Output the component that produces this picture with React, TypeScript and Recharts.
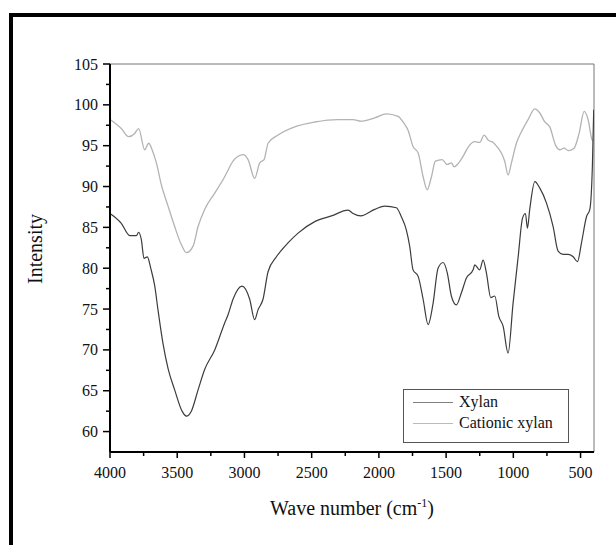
import React from 'react'
import { LineChart, Line, XAxis, YAxis, ReferenceLine } from 'recharts'

// FTIR spectra
const xylanWave = [4000, 3916, 3853, 3804, 3787, 3767, 3747, 3722, 3697, 3667, 3643, 3606, 3568, 3519, 3464, 3432, 3395, 3345, 3296, 3221, 3147, 3122, 3085, 3018, 2961, 2924, 2899, 2862, 2824, 2762, 2676, 2601, 2477, 2353, 2229, 2192, 2135, 2031, 1956, 1870, 1833, 1796, 1771, 1746, 1708, 1671, 1634, 1597, 1560, 1522, 1491, 1461, 1424, 1386, 1349, 1299, 1287, 1250, 1225, 1200, 1168, 1138, 1108, 1076, 1039, 1002, 964, 932, 910, 895, 878, 840, 803, 754, 704, 667, 630, 592, 555, 523, 493, 456, 431, 412, 402]
const xylanValue = [86.7, 85.5, 84.0, 84.0, 84.4, 83.5, 81.2, 81.4, 80.0, 77.8, 74.9, 70.8, 67.7, 65.1, 62.5, 61.9, 62.5, 65.1, 67.6, 70.0, 73.3, 74.3, 76.2, 77.8, 76.2, 73.7, 74.9, 76.2, 79.6, 81.4, 83.1, 84.3, 85.7, 86.4, 87.1, 86.7, 86.4, 87.2, 87.6, 87.4, 86.3, 84.7, 82.7, 79.8, 79.0, 76.2, 73.1, 75.7, 80.0, 80.7, 79.4, 76.6, 75.5, 77.0, 78.8, 79.8, 80.4, 79.8, 81.0, 79.4, 76.4, 76.6, 74.1, 72.9, 69.6, 75.7, 81.4, 86.1, 86.7, 84.9, 87.2, 90.6, 89.8, 88.0, 85.1, 82.1, 81.7, 81.7, 81.4, 80.8, 83.1, 86.3, 87.2, 92.5, 99.4]

const cationicWave = [4000, 3916, 3861, 3816, 3787, 3742, 3712, 3687, 3655, 3618, 3568, 3519, 3470, 3432, 3382, 3345, 3296, 3221, 3147, 3122, 3085, 3010, 2973, 2924, 2886, 2854, 2824, 2750, 2626, 2477, 2304, 2192, 2133, 2031, 1944, 1857, 1820, 1783, 1746, 1708, 1671, 1641, 1609, 1580, 1530, 1491, 1461, 1441, 1411, 1374, 1337, 1287, 1250, 1217, 1188, 1150, 1113, 1089, 1064, 1039, 1014, 977, 940, 890, 840, 803, 766, 729, 687, 654, 622, 592, 548, 511, 473, 444, 414, 400]
const cationicValue = [98.2, 97.1, 96.1, 96.5, 97.1, 94.5, 95.3, 94.5, 92.9, 90.2, 87.6, 85.1, 82.9, 81.9, 82.7, 85.1, 87.2, 89.2, 91.2, 92.0, 93.1, 93.9, 93.3, 91.0, 92.9, 93.3, 95.3, 96.3, 97.3, 97.9, 98.2, 98.2, 98.0, 98.4, 98.9, 98.6, 97.9, 96.9, 94.9, 94.1, 91.2, 89.6, 91.2, 93.1, 93.3, 92.7, 92.9, 92.4, 92.8, 93.7, 94.8, 95.5, 95.4, 96.3, 95.7, 95.4, 94.7, 94.1, 93.1, 91.4, 92.9, 95.3, 96.7, 98.2, 99.5, 99.0, 97.9, 97.3, 95.1, 94.5, 94.7, 94.4, 94.7, 96.5, 99.2, 98.2, 95.7, 95.5]

const xTicks = [4000, 3750, 3500, 3250, 3000, 2750, 2500, 2250, 2000, 1750, 1500, 1250, 1000, 750, 500]
const yTicks = [60, 62.5, 65, 67.5, 70, 72.5, 75, 77.5, 80, 82.5, 85, 87.5, 90, 92.5, 95, 97.5, 100, 102.5, 105]

const xylanData = xylanWave.map((w, i) => ({ w, v: xylanValue[i] }))
const cationicData = cationicWave.map((w, i) => ({ w, v: cationicValue[i] }))

const FONT = '"Liberation Serif", "Times New Roman", serif'

const XTick = ({ x, y, payload }: any) => {
  const major = payload.value % 500 === 0
  return (
    <g>
      <line x1={x} x2={x} y1={y} y2={y + (major ? 6 : 4)} stroke="#000" strokeWidth={1.5} />
      {major && (
        <text x={x} y={y + 26} textAnchor="middle" fontSize={16} fontFamily={FONT} fill="#111">
          {payload.value}
        </text>
      )}
    </g>
  )
}

const YTick = ({ x, y, payload }: any) => {
  const major = payload.value % 5 === 0
  return (
    <g>
      <line x1={x - (major ? 7 : 4)} x2={x} y1={y} y2={y} stroke="#000" strokeWidth={1.5} />
      {major && (
        <text x={x - 12} y={y} dy="0.35em" textAnchor="end" fontSize={16} fontFamily={FONT} fill="#111">
          {payload.value}
        </text>
      )}
    </g>
  )
}

export default function App() {
  return (
    <div style={{ position: 'absolute', left: 0, top: 0, width: 616, height: 545, background: '#fff', fontFamily: FONT, overflow: 'hidden' }}>
      <div style={{ position: 'absolute', left: 9, top: 13, width: 607, height: 532, borderTop: '4px solid #000', borderLeft: '4px solid #000', boxSizing: 'border-box' }} />
      <div style={{ position: 'absolute', left: 0, top: 0 }}>
        <LineChart width={616} height={545} margin={{ top: 64, right: 22, bottom: 33, left: 0 }}>
          <XAxis
            type="number"
            dataKey="w"
            domain={[400, 4000]}
            reversed
            ticks={xTicks}
            interval={0}
            allowDataOverflow
            height={60}
            tickSize={0}
            tickMargin={0}
            tick={<XTick />}
            axisLine={{ stroke: '#000', strokeWidth: 2 }}
            tickLine={false}
          />
          <YAxis
            type="number"
            domain={[57.5, 105]}
            ticks={yTicks}
            interval={0}
            allowDataOverflow
            width={110}
            tickSize={0}
            tickMargin={0}
            tick={<YTick />}
            axisLine={{ stroke: '#000', strokeWidth: 2 }}
            tickLine={false}
          />
          <ReferenceLine y={105} stroke="#777" strokeWidth={1} />
          <ReferenceLine x={400} stroke="#777" strokeWidth={1} />
          <Line data={cationicData} dataKey="v" type="monotone" stroke="#b3b3b3" strokeWidth={1.3} dot={false} isAnimationActive={false} />
          <Line data={xylanData} dataKey="v" type="monotone" stroke="#3c3c3c" strokeWidth={1.2} dot={false} isAnimationActive={false} />
        </LineChart>
      </div>
      <div style={{ position: 'absolute', left: 35, top: 249, transform: 'translate(-50%, -50%) rotate(-90deg)', fontSize: 20, whiteSpace: 'nowrap', color: '#111' }}>
        Intensity
      </div>
      <div style={{ position: 'absolute', left: 352, top: 508, transform: 'translate(-50%, -50%)', fontSize: 20, whiteSpace: 'nowrap', color: '#111' }}>
        Wave number (cm<sup style={{ fontSize: 12 }}>-1</sup>)
      </div>
      <div style={{ position: 'absolute', left: 403, top: 389, width: 166, height: 54, border: '1.5px solid #555', boxSizing: 'border-box', background: '#fff', fontSize: 16, color: '#111' }}>
        <div style={{ position: 'absolute', left: 9, top: 3, display: 'flex', alignItems: 'center', whiteSpace: 'nowrap' }}>
          <span style={{ display: 'inline-block', width: 40, borderTop: '1.5px solid #808080', marginRight: 6 }} />
          Xylan
        </div>
        <div style={{ position: 'absolute', left: 9, top: 24, display: 'flex', alignItems: 'center', whiteSpace: 'nowrap' }}>
          <span style={{ display: 'inline-block', width: 40, borderTop: '1px solid #bbb', marginRight: 6 }} />
          Cationic xylan
        </div>
      </div>
    </div>
  )
}
